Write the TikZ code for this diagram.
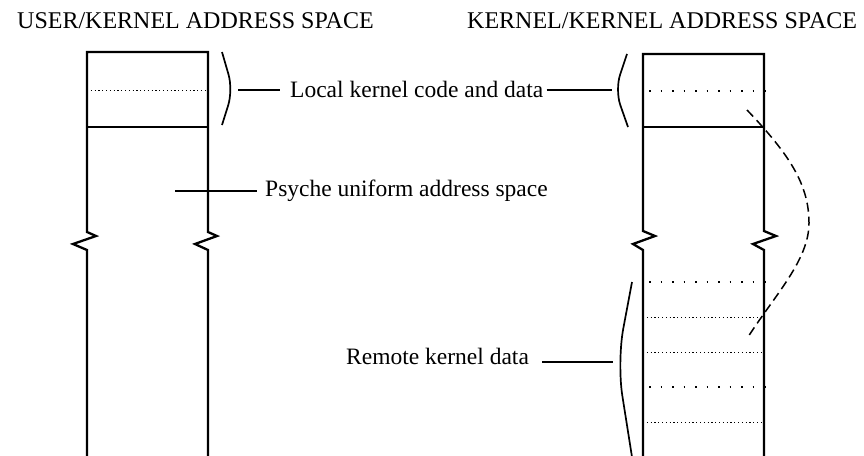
\documentclass[tikz,border=0pt]{standalone}
\usepackage{fontspec}
\setmainfont{Liberation Serif}
\usepackage{tikz}

\begin{document}
\begin{tikzpicture}[x=1pt, y=-1pt,
    lbl/.style={inner sep=0pt, anchor=base west, font=\fontsize{23.5}{27}\selectfont},
    hdr/.style={inner sep=0pt, anchor=base west, font=\fontsize{24}{28}\selectfont},
    wall/.style={line width=2.3pt, line join=miter},
    lead/.style={line width=1.8pt},
    brk/.style={line width=1.7pt, rounded corners=16pt},
    loosedots/.style={line width=1.5pt, dash pattern=on 1.5pt off 10pt},
    densedots/.style={line width=0.9pt, dash pattern=on 1.2pt off 2.6pt},
    swing/.style={line width=1.5pt, dash pattern=on 9pt off 5pt}]
    \useasboundingbox (0,0) rectangle (864,455);

    % headings
    \node[hdr] (hdrA) at (17,28) {USER/KERNEL ADDRESS SPACE};
    \node[hdr] (hdrB) at (467,28) {KERNEL/KERNEL ADDRESS SPACE};

    % labels
    \node[lbl] (local) at (290,97) {Local kernel code and data};
    \node[lbl] (psyche) at (265,196) {Psyche uniform address space};
    \node[lbl] (remote) at (346,364) {Remote kernel data};

    % user/kernel column
    \draw[wall] (87,457) -- (87,250) -- (73,244) -- (96,236) -- (87,232) -- (87,52)
        -- (208,52) -- (208,232) -- (217,236) -- (195,244) -- (208,250) -- (208,457);
    \draw[wall] (87,127) -- (208,127);
    \draw[densedots] (87,90) -- (208,90);

    % kernel/kernel column
    \draw[wall] (643,457) -- (643,250) -- (633,244) -- (655,236) -- (643,231) -- (643,54)
        -- (764,54) -- (764,231) -- (776,236) -- (753,244) -- (764,250) -- (764,457);
    \draw[wall] (643,127) -- (764,127);
    \foreach \y in {91,282,387}
        \draw[loosedots] (649,\y) -- (766,\y);
    \foreach \y in {317,352,422}
        \draw[densedots] (643,\y) -- (764,\y);

    % brackets
    \draw[brk] (222,52) -- (233,90) -- (222,125);
    \draw[brk] (627,54) -- (615,90) -- (628,127);
    \draw[brk, rounded corners=34pt] (632,282) -- (617,362) -- (632,457);
    \coordinate (tipA) at (233,90);
    \coordinate (tipB) at (614,90);
    \coordinate (tipR) at (617,362);
    \coordinate (psyA) at (175,191);

    % leaders
    \draw[lead, shorten <=5pt, shorten >=10pt] (tipA) -- (tipA -| local.west);
    \draw[lead, shorten <=3pt, shorten >=2pt] (local.east |- tipB) -- (tipB);
    \draw[lead, shorten >=8pt] (psyA) -- (psyA -| psyche.west);
    \draw[lead, shorten <=13pt, shorten >=4pt] (remote.east |- tipR) -- (tipR);

    % mapping
    \draw[swing] (747,110) .. controls (790,155) and (809,185) .. (809,223)
        .. controls (809,260) and (775,295) .. (748,337);
\end{tikzpicture}
\end{document}
